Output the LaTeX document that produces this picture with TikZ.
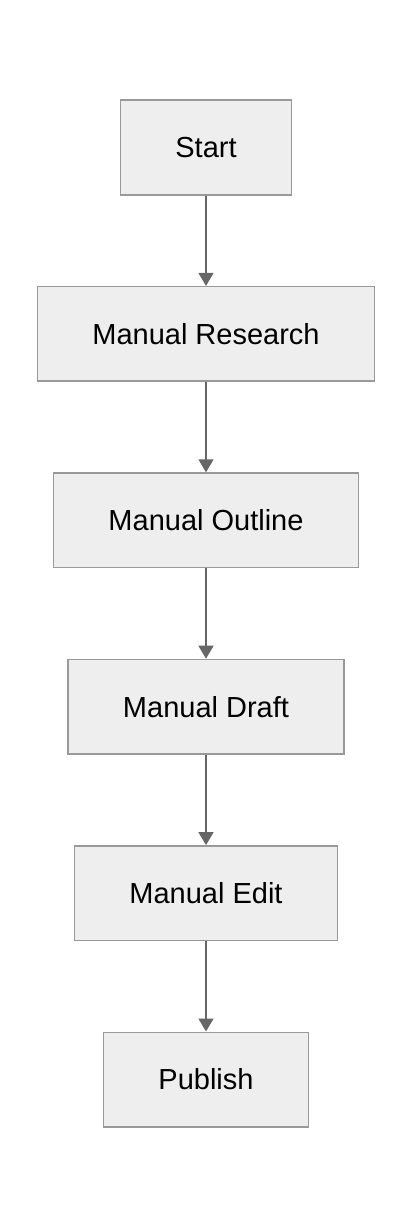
\documentclass[tikz,border=0pt]{standalone}
\usepackage{fontspec}
\setmainfont{Liberation Sans}
\usetikzlibrary{arrows.meta,positioning}
\definecolor{boxfill}{HTML}{EEEEEE}
\definecolor{boxline}{HTML}{999999}
\definecolor{flowline}{HTML}{666666}

\begin{document}
\begin{tikzpicture}[
    node distance=90.4pt,
    stage/.style={rectangle,draw=boxline,fill=boxfill,line width=1.5pt,
      minimum height=94.5pt,inner xsep=55pt,font=\fontsize{29}{33}\selectfont},
    flow/.style={draw=flowline,line width=1.5pt,
      -{Triangle[length=13pt,width=15pt,fill=flowline]}}
  ]
  \useasboundingbox (0,0) rectangle (412pt,-1228pt);
  \node[stage] (start) at (206pt,-147.5pt) {Start};
    \node[stage,below=of start] (research) {Manual Research};
    \node[stage,below=of research] (outline) {Manual Outline};
    \node[stage,below=of outline] (draft) {Manual Draft};
    \node[stage,below=of draft] (edit) {Manual Edit};
    \node[stage,below=of edit] (publish) {Publish};
    \draw[flow] (start) -- (research);
    \draw[flow] (research) -- (outline);
    \draw[flow] (outline) -- (draft);
    \draw[flow] (draft) -- (edit);
    \draw[flow] (edit) -- (publish);
\end{tikzpicture}
\end{document}
